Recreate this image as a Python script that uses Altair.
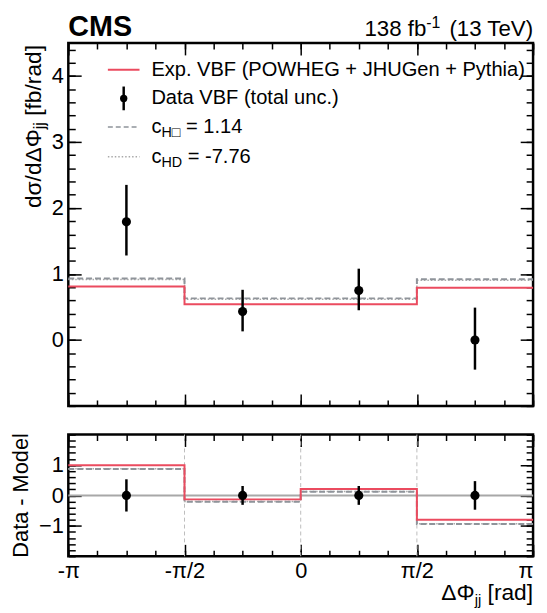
import json
import math
import altair as alt
import pandas as pd

PI = math.pi

# ---------------- data ----------------
bin_edges = [-PI, -PI / 2, 0.0, PI / 2, PI]
x_tick_labels = ["-π", "-π/2", "0", "π/2", "π"]

data_vbf = [1.79, 0.43, 0.75, 0.00]
data_err_up = [0.56, 0.33, 0.33, 0.49]
data_err_dn = [0.51, 0.30, 0.30, 0.45]
exp_vbf = [0.81, 0.54, 0.54, 0.79]
c_hbox = [0.93, 0.63, 0.63, 0.92]
c_hd = [0.915, 0.615, 0.615, 0.905]

diff_data = [0.0, 0.0, 0.0, 0.0]
diff_err_up = [0.53, 0.31, 0.31, 0.47]
diff_err_dn = [0.53, 0.31, 0.31, 0.47]
diff_exp = [0.99, -0.13, 0.21, -0.80]
diff_hbox = [0.87, -0.21, 0.12, -0.94]
diff_hd = [0.88, -0.20, 0.13, -0.93]

legend_labels = ["Exp. VBF (POWHEG + JHUGen + Pythia)", "Data VBF (total unc.)"]
wc_names = ["H□", "HD"]
wc_values = ["1.14", "-7.76"]

# ---------------- style ----------------
FONT = "Liberation Sans"
RED = "#eb4b5f"
GRAY_DASH = "#8f949a"
GRAY_DOT = "#a9a9a9"
W = 470
H_TOP = 367
H_BOT = 123
GAP = 24
LABEL_SIZE = 22

AW = {' ': 278, '0': 556, '1': 556, '2': 556, '3': 556, '4': 556, '5': 556, '6': 556,
      '7': 556, '8': 556, '9': 556, '.': 278, '-': 333, '=': 584, '(': 333, ')': 333,
      '[': 278, ']': 278, '/': 278, 'a': 556, 'b': 556, 'c': 500, 'd': 556, 'e': 556,
      'f': 278, 'r': 333, 'j': 222, 'D': 722, 'H': 722, 'T': 611, 'V': 667,
      'Δ': 668, 'Φ': 797, 'σ': 617, '□': 600}


def tw(s, size):
    return sum(AW.get(c, 556) for c in s) * size / 1000.0


centers = [(bin_edges[i] + bin_edges[i + 1]) / 2 for i in range(4)]


def step_df(vals):
    return pd.DataFrame({"x": bin_edges, "y": list(vals) + [vals[-1]]})


def pts_df(vals, up, dn):
    return pd.DataFrame({
        "x": centers,
        "y": vals,
        "lo": [v - d for v, d in zip(vals, dn)],
        "hi": [v + u for v, u in zip(vals, up)],
    })


one = pd.DataFrame({"k": [0]})

xs = alt.Scale(domain=[-PI, PI], nice=False, zero=False)
x_major = bin_edges
x_minor = [-PI + k * PI / 8 for k in range(17)]
label_expr = json.dumps(x_tick_labels, ensure_ascii=False) + "[round(datum.value/(PI/2))+2]"
last_label_align = {"condition": {"test": "datum.value > 3", "value": "right"}, "value": "center"}


def axis(orient, values, size, offset, labels=False, expr=None):
    # all axes drawn on left/bottom orient; ticks point into the plot
    kw = dict(orient=orient, values=values, tickSize=size, offset=offset, domain=False,
              grid=False, labels=labels, title=None, tickColor="black", tickWidth=1.5,
              labelFont=FONT, labelFontSize=LABEL_SIZE, labelColor="black", labelPadding=5,
              labelOverlap=False, labelFlush=False, minExtent=0)
    if expr is not None:
        kw["labelExpr"] = expr
        kw["labelAlign"] = last_label_align
    return alt.Axis(**kw)


def panel(ys, h, y_major, y_labels, y_minor, lines, pts, x_labels, extra_back=None, extra_front=None):
    (v_exp, v_box, v_hd) = lines
    red = alt.Chart(step_df(v_exp)).mark_line(interpolate="step-after", color=RED, strokeWidth=2).encode(
        x=alt.X("x:Q", scale=xs, axis=axis("bottom", x_major, 12, -12, labels=x_labels,
                                            expr=label_expr if x_labels else None)),
        y=alt.Y("y:Q", scale=ys, axis=axis("left", y_labels, 13, -13, labels=True)),
    )
    dash = alt.Chart(step_df(v_box)).mark_line(interpolate="step-after", color=GRAY_DASH, strokeWidth=2,
                                               strokeDash=[6, 3]).encode(
        x=alt.X("x:Q", scale=xs, axis=axis("bottom", x_minor, 6, -6)),
        y=alt.Y("y:Q", scale=ys, axis=axis("left", y_minor, 7, -7)),
    )
    # ticks along the top and right edges (axis lines moved onto the opposite edge)
    dot = alt.Chart(step_df(v_hd)).mark_line(interpolate="step-after", color=GRAY_DOT, strokeWidth=1.5,
                                             strokeDash=[1.5, 2]).encode(
        x=alt.X("x:Q", scale=xs, axis=axis("bottom", x_major, 12, -h)),
        y=alt.Y("y:Q", scale=ys, axis=axis("left", y_major, 13, -W)),
    )
    err = alt.Chart(pts).mark_rule(color="black", strokeWidth=2.5).encode(
        x=alt.X("x:Q", scale=xs, axis=axis("bottom", x_minor, 6, -h)),
        y=alt.Y("lo:Q", scale=ys, axis=axis("left", y_minor, 7, -W)),
        y2="hi:Q",
    )
    dots = alt.Chart(pts).mark_circle(color="black", size=85, opacity=1).encode(
        x=alt.X("x:Q", scale=xs, axis=None),
        y=alt.Y("y:Q", scale=ys, axis=None),
    )
    layers = (extra_back or []) + [dot, dash, red, err, dots] + (extra_front or [])
    return alt.layer(*layers).resolve_axis(x="independent", y="independent")


def txt(text, x, y, size, angle=0, align="left", baseline="alphabetic", dx=0, dy=0, weight="normal"):
    kw = dict(font=FONT, fontSize=size, align=align, baseline=baseline, color="black",
              fontWeight=weight, dx=dx, dy=dy)
    if angle:
        kw["angle"] = angle
    return alt.Chart(one).mark_text(**kw).encode(x=alt.value(x), y=alt.value(y), text=alt.value(text))


# ---------------- top panel ----------------
ys_top = alt.Scale(domain=[-1, 4.5], nice=False, zero=False)
top_extra = []
# header
top_extra.append(txt("CMS", 0, -7, 29, weight="bold"))
s_main, s_sup = 22.5, 16
p3 = " (13 TeV)"
p2 = "-1"
p1 = "138 fb"
top_extra.append(txt(p3, W, -7, s_main, align="right"))
top_extra.append(txt(p2, W, -7, s_sup, align="right", dx=-tw(p3, s_main), dy=-8))
top_extra.append(txt(p1, W, -7, s_main, align="right", dx=-tw(p3, s_main) - tw(p2, s_sup)))
# y title
YS, YSS = 23, 16
yt3 = " [fb/rad]"
yt2 = "jj"
yt1 = "dσ/dΔΦ"
YTX = -35
top_extra.append(txt(yt3, YTX, 2, YS, angle=270, align="right", baseline="middle"))
top_extra.append(txt(yt2, YTX, 2, YSS, angle=270, align="right", baseline="middle",
                     dx=-tw(yt3, YS), dy=6))
top_extra.append(txt(yt1, YTX, 2, YS, angle=270, align="right", baseline="middle",
                     dx=-tw(yt3, YS) - tw(yt2, YSS)))
# legend
LS = 20.3
LSS = 14.5
LX0, LX1, LT = 40, 72, 84
rows = [27, 56, 85, 115]
top_extra.append(alt.Chart(one).mark_rule(color=RED, strokeWidth=2).encode(
    x=alt.value(LX0), x2=alt.value(LX1), y=alt.value(rows[0])))
top_extra.append(txt(legend_labels[0], LT, rows[0], LS, baseline="middle"))
top_extra.append(alt.Chart(one).mark_rule(color="black", strokeWidth=2.5).encode(
    x=alt.value((LX0 + LX1) / 2), y=alt.value(rows[1] - 12), y2=alt.value(rows[1] + 12)))
top_extra.append(alt.Chart(one).mark_circle(color="black", size=55, opacity=1).encode(
    x=alt.value((LX0 + LX1) / 2), y=alt.value(rows[1])))
top_extra.append(txt(legend_labels[1], LT, rows[1], LS, baseline="middle"))
top_extra.append(alt.Chart(one).mark_rule(color=GRAY_DASH, strokeWidth=1.5, strokeDash=[5, 3]).encode(
    x=alt.value(LX0), x2=alt.value(LX1), y=alt.value(rows[2])))
top_extra.append(alt.Chart(one).mark_rule(color=GRAY_DOT, strokeWidth=1.5, strokeDash=[1.5, 2]).encode(
    x=alt.value(LX0), x2=alt.value(LX1), y=alt.value(rows[3])))
for i, r in enumerate([rows[2], rows[3]]):
    top_extra.append(txt("c", LT, r, LS, baseline="middle"))
    top_extra.append(txt(wc_names[i], LT, r, LSS, baseline="middle", dx=tw("c", LS), dy=6))
    top_extra.append(txt("= " + wc_values[i], LT, r, LS, baseline="middle",
                         dx=tw("c", LS) + tw(wc_names[i], LSS) + tw(" ", LS)))

y_minor_top = [round(-1 + 0.2 * k, 2) for k in range(28)]
top = panel(ys_top, H_TOP, [-1, 0, 1, 2, 3, 4], [0, 1, 2, 3, 4], y_minor_top,
            (exp_vbf, c_hbox, c_hd), pts_df(data_vbf, data_err_up, data_err_dn), False,
            extra_front=top_extra).properties(width=W, height=H_TOP)

# ---------------- bottom panel ----------------
ys_bot = alt.Scale(domain=[-2, 2], nice=False, zero=False)
inner = pd.DataFrame({"x": bin_edges[1:4]})
zero_line = alt.Chart(one).mark_rule(color="#a8a8a8", strokeWidth=2).encode(
    y=alt.YDatum(0, scale=ys_bot, axis=None))
vlines = alt.Chart(inner).mark_rule(color="#bdbdbd", strokeWidth=1, strokeDash=[4, 3]).encode(
    x=alt.X("x:Q", scale=xs, axis=None))
bot_extra = [txt("Data - Model", -48, H_BOT / 2, 22, angle=270, align="center", baseline="middle")]
XS, XSS = 23, 15
xt3 = " [rad]"
xt2 = "jj"
xt1 = "ΔΦ"
XTY = H_BOT + 44
bot_extra.append(txt(xt3, W, XTY, XS, align="right"))
bot_extra.append(txt(xt2, W, XTY, XSS, align="right", dx=-tw(xt3, XS), dy=5))
bot_extra.append(txt(xt1, W, XTY, XS, align="right", dx=-tw(xt3, XS) - tw(xt2, XSS)))

y_minor_bot = [round(-2 + 0.2 * k, 2) for k in range(21)]
bottom = panel(ys_bot, H_BOT, [-1, 0, 1], [-1, 0, 1], y_minor_bot,
               (diff_exp, diff_hbox, diff_hd), pts_df(diff_data, diff_err_up, diff_err_dn), True,
               extra_back=[vlines, zero_line], extra_front=bot_extra).properties(width=W, height=H_BOT)

chart = alt.vconcat(top, bottom, spacing=GAP).properties(
    padding={"left": 0, "top": 0, "right": 0, "bottom": 0}
).configure_view(stroke="black", strokeWidth=2.5)

chart.save("out.html", embed_options={"renderer": "svg", "actions": False})
